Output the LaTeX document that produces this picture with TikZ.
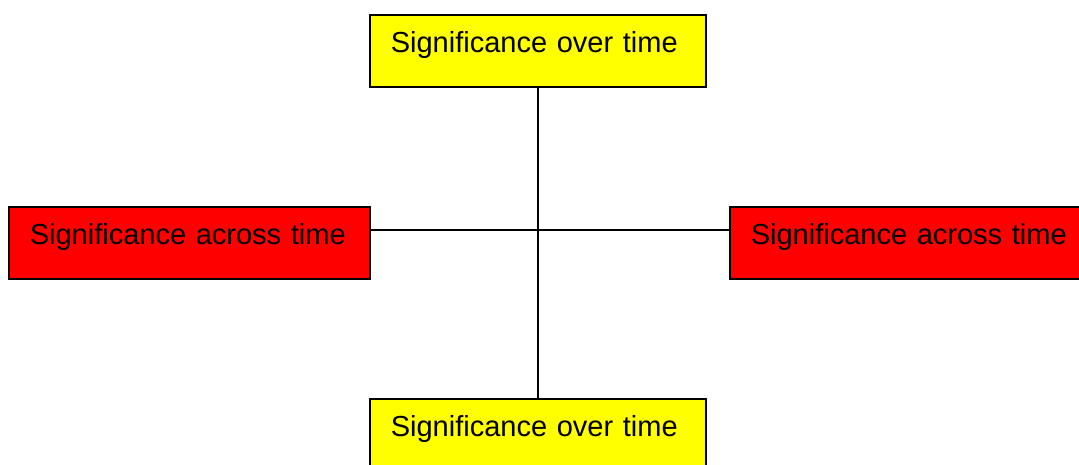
\documentclass[tikz,border=0pt]{standalone}
\usepackage{fontspec}
\setmainfont{Liberation Sans}
\definecolor{boxyellow}{RGB}{255,255,0}
\definecolor{boxred}{RGB}{255,0,0}
\begin{document}
\begin{tikzpicture}[x=1pt,y=-1pt,
  box/.style={draw=black, line width=1.6pt, anchor=north west, inner xsep=21pt, inner ysep=0pt,
    text height=38pt, text depth=34pt, align=left, font=\fontsize{29}{34}\selectfont},
  ybox/.style={box, fill=boxyellow, text width=294pt},
  rbox/.style={box, fill=boxred, text width=319pt},
  link/.style={draw=black, line width=1.8pt}]
\useasboundingbox (0,0) rectangle (1079,464);
\clip (0,0) rectangle (1079,464);
\node[ybox] (top) at (369,14) {Significance over time};
\node[rbox] (left) at (8,206) {Significance across time};
\node[rbox] (right) at (729,206) {Significance across time};
\node[ybox] (bottom) at (369,398) {Significance over time};
\draw[link] (top.south) -- (bottom.north);
\draw[link] ([yshift=-24pt]left.north east) -- ([yshift=-24pt]right.north west);
\end{tikzpicture}
\end{document}
